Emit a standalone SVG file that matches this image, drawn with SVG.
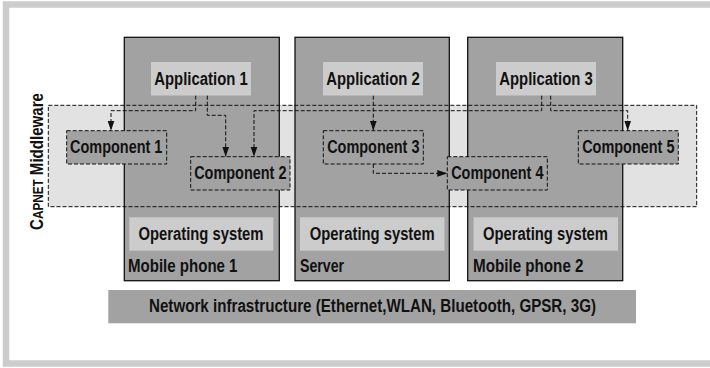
<svg xmlns="http://www.w3.org/2000/svg" width="710" height="368" viewBox="0 0 710 368">
<defs>
<style>
.t{font-family:"Liberation Sans",Arial,sans-serif;font-weight:bold;font-size:18px;fill:#111}
.dev{fill:#a2a2a2;stroke:#111;stroke-width:1.3}
.lt{fill:#cccccc}
.comp{fill:#a2a2a2;stroke:#111;stroke-width:1;stroke-dasharray:4 2}
.dash{fill:none;stroke:#111;stroke-width:1;stroke-dasharray:4 2}
</style>
<marker id="ah" markerUnits="userSpaceOnUse" markerWidth="10" markerHeight="8" viewBox="0 0 10 8" refX="10" refY="4" orient="auto">
<path d="M0,0.6 L10,4 L0,7.4 z" fill="#111"/>
</marker>
</defs>
<rect x="0" y="0" width="710" height="368" fill="#ffffff"/>
<rect x="6" y="4.5" width="730" height="359" fill="none" stroke="#cccccc" stroke-width="6.5"/>
<rect id="middleware-fill" x="48.3" y="105.3" width="648.4" height="101.4" fill="#e2e2e2"/>
<g id="mobile-phone-1">
<rect class="dev" x="124.3" y="37.3" width="155" height="243.4"/>
<text class="t" x="128" y="271.7" textLength="109.5" lengthAdjust="spacingAndGlyphs">Mobile phone 1</text>
</g>
<g id="server">
<rect class="dev" x="295" y="37.3" width="154.3" height="243.4"/>
<text class="t" x="300" y="271.7" textLength="44" lengthAdjust="spacingAndGlyphs">Server</text>
</g>
<g id="mobile-phone-2">
<rect class="dev" x="467.7" y="37.3" width="155" height="243.4"/>
<text class="t" x="473" y="271.7" textLength="110.5" lengthAdjust="spacingAndGlyphs">Mobile phone 2</text>
</g>
<g id="middleware">
<rect class="dash" x="48.3" y="105.3" width="648.4" height="101.4"/>
<text class="t" transform="translate(43.3,161.5) rotate(-90)" text-anchor="middle" textLength="137" lengthAdjust="spacingAndGlyphs">C<tspan font-size="14">APNET</tspan> Middleware</text>
</g>
<g id="application-1">
<rect class="lt" x="151" y="62" width="100" height="33.5"/>
<text class="t" x="201" y="85" text-anchor="middle" textLength="93.5" lengthAdjust="spacingAndGlyphs">Application 1</text>
</g>
<g id="application-2">
<rect class="lt" x="323" y="62" width="100" height="33.5"/>
<text class="t" x="373" y="85" text-anchor="middle" textLength="93.5" lengthAdjust="spacingAndGlyphs">Application 2</text>
</g>
<g id="application-3">
<rect class="lt" x="496" y="62" width="100" height="33.5"/>
<text class="t" x="546" y="85" text-anchor="middle" textLength="93.5" lengthAdjust="spacingAndGlyphs">Application 3</text>
</g>
<g id="os-1">
<rect class="lt" x="129.3" y="217.3" width="144" height="33.4"/>
<text class="t" x="201" y="240" text-anchor="middle" textLength="125" lengthAdjust="spacingAndGlyphs">Operating system</text>
</g>
<g id="os-2">
<rect class="lt" x="300" y="217.3" width="144.5" height="33.4"/>
<text class="t" x="372.2" y="240" text-anchor="middle" textLength="125" lengthAdjust="spacingAndGlyphs">Operating system</text>
</g>
<g id="os-3">
<rect class="lt" x="473.5" y="217.3" width="144.5" height="33.4"/>
<text class="t" x="545.5" y="240" text-anchor="middle" textLength="125" lengthAdjust="spacingAndGlyphs">Operating system</text>
</g>
<g id="network">
<rect x="108.3" y="290" width="527.7" height="33.3" fill="#a2a2a2"/>
<text class="t" x="372.5" y="311.7" text-anchor="middle" textLength="447" lengthAdjust="spacingAndGlyphs">Network infrastructure (Ethernet,WLAN, Bluetooth, GPSR, 3G)</text>
</g>
<g id="connectors">
<path class="dash" d="M195.7,95.7 V110.7 H111 V130.7" marker-end="url(#ah)"/>
<path class="dash" d="M207.3,95.7 V115.3 H225.7 V156.7" marker-end="url(#ah)"/>
<path class="dash" d="M541.7,95.7 V110.7 H254 V156.7" marker-end="url(#ah)"/>
<path class="dash" d="M373.3,95.7 V130.7" marker-end="url(#ah)"/>
<path class="dash" d="M373.3,164 V173.3 H447.3" marker-end="url(#ah)"/>
<path class="dash" d="M550.7,95.7 V110.7 H627.7 V130.7" marker-end="url(#ah)"/>
</g>
<g id="component-1">
<rect class="comp" x="66.7" y="130.7" width="100" height="33.3"/>
<text class="t" x="116.2" y="153.3" text-anchor="middle" textLength="92.3" lengthAdjust="spacingAndGlyphs">Component 1</text>
</g>
<g id="component-2">
<rect class="comp" x="190.7" y="156.7" width="99.3" height="33.3"/>
<text class="t" x="240.3" y="179.3" text-anchor="middle" textLength="92.3" lengthAdjust="spacingAndGlyphs">Component 2</text>
</g>
<g id="component-3">
<rect class="comp" x="323.3" y="130.7" width="100" height="33.3"/>
<text class="t" x="373.3" y="153.3" text-anchor="middle" textLength="92.3" lengthAdjust="spacingAndGlyphs">Component 3</text>
</g>
<g id="component-4">
<rect class="comp" x="447.3" y="156.7" width="100" height="33.3"/>
<text class="t" x="497.3" y="179.3" text-anchor="middle" textLength="92.3" lengthAdjust="spacingAndGlyphs">Component 4</text>
</g>
<g id="component-5">
<rect class="comp" x="578.3" y="130.7" width="100" height="33.3"/>
<text class="t" x="628.3" y="153.3" text-anchor="middle" textLength="92.3" lengthAdjust="spacingAndGlyphs">Component 5</text>
</g>
</svg>
